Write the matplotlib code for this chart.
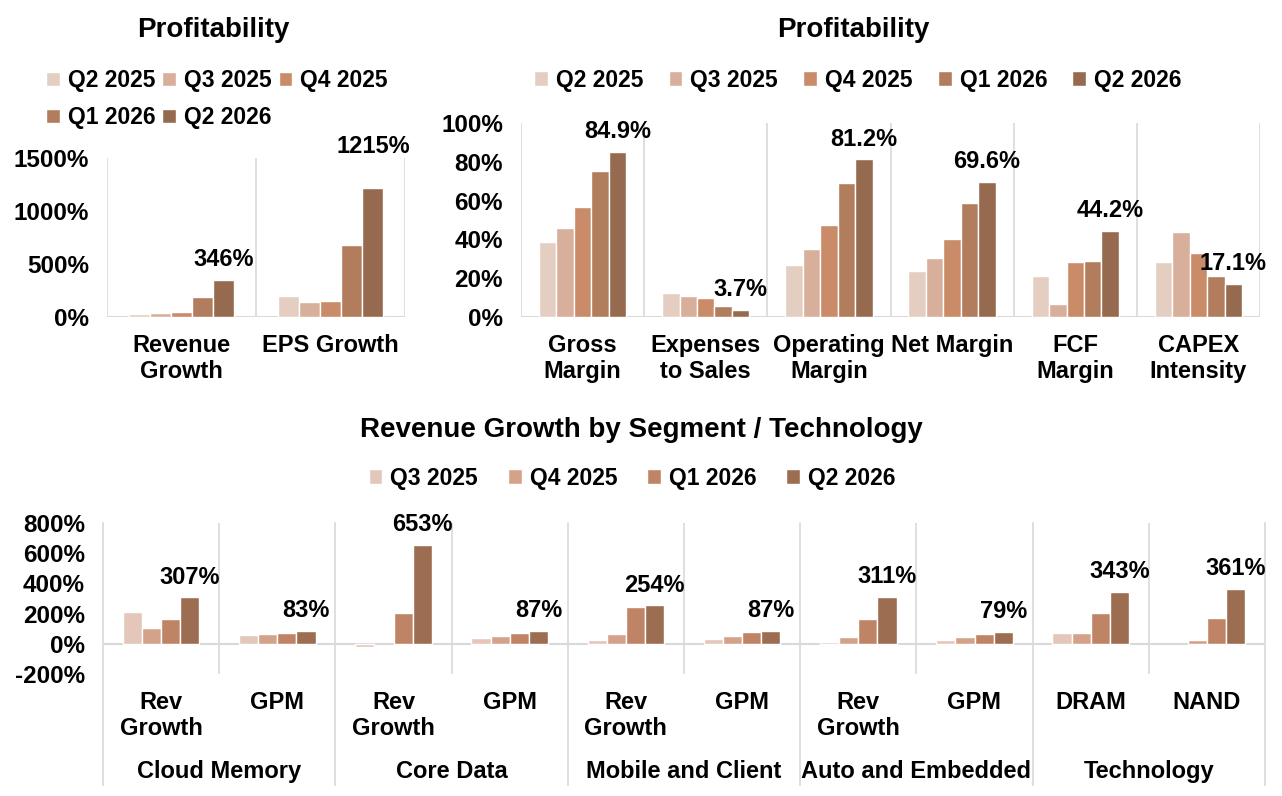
import matplotlib
matplotlib.use("Agg")
import matplotlib.pyplot as plt
import matplotlib.transforms as mtransforms
import numpy as np

plt.rcParams['font.family'] = ['Liberation Sans', 'DejaVu Sans']
plt.rcParams['font.weight'] = 'bold'
plt.rcParams['font.size'] = 17

W, H = 1282, 796
GRID = '#D9D9D9'

# ---- data ----
top_quarters = ['Q2 2025', 'Q3 2025', 'Q4 2025', 'Q1 2026', 'Q2 2026']
top_colors = ['#E4CDC1', '#D7AF9B', '#C98B68', '#B27D5D', '#966A4E']

growth_cats = ['Revenue\nGrowth', 'EPS Growth']
revenue_growth = [30, 38, 47, 193, 346]
eps_growth = [200, 146, 152, 678, 1215]

margin_cats = ['Gross\nMargin', 'Expenses\nto Sales', 'Operating\nMargin',
               'Net Margin', 'FCF\nMargin', 'CAPEX\nIntensity']
gross_margin = [38.8, 45.7, 56.9, 75.2, 84.9]
expenses_to_sales = [12.4, 10.9, 9.8, 5.9, 3.7]
operating_margin = [26.7, 35.0, 47.2, 69.3, 81.2]
net_margin = [23.6, 30.5, 40.3, 59.0, 69.6]
fcf_margin = [21.2, 6.9, 28.4, 29.0, 44.2]
capex_intensity = [28.4, 43.8, 32.9, 21.2, 17.1]

seg_quarters = ['Q3 2025', 'Q4 2025', 'Q1 2026', 'Q2 2026']
seg_colors = ['#E4C7BA', '#D4A28A', '#BF8465', '#9C6D50']
segments = ['Cloud Memory', 'Core Data', 'Mobile and Client', 'Auto and Embedded', 'Technology']
seg_metrics = ['Rev\nGrowth', 'GPM', 'Rev\nGrowth', 'GPM', 'Rev\nGrowth', 'GPM',
               'Rev\nGrowth', 'GPM', 'DRAM', 'NAND']
cloud_rev = [213, 104, 165, 307]
cloud_gpm = [59, 65, 72, 83]
core_rev = [-20, np.nan, 206, 653]
core_gpm = [41, 52, 72, 87]
mobile_rev = [22, 65, 246, 254]
mobile_gpm = [35, 52, 76, 87]
auto_rev = [15, 46, 165, 311]
auto_gpm = [28, 46, 65, 79]
dram = [70, 70, 206, 343]
nand = [np.nan, 22, 172, 361]


def rect(l, t, r, b):
    return [l / W, 1 - b / H, (r - l) / W, (b - t) / H]


def grouped(ax, groups, quarters, colors, span, fmt, pads):
    n_cat, n_q = len(groups), len(quarters)
    bw = span / n_q
    for q in range(n_q):
        xs = np.arange(n_cat) + (q - (n_q - 1) / 2) * bw
        ys = [g[q] for g in groups]
        ax.bar(xs, ys, width=bw, color=colors[q], edgecolor='white',
               linewidth=1, label=quarters[q], zorder=2)
    # labels on the latest quarter only
    xs = np.arange(n_cat) + ((n_q - 1) / 2) * bw
    for x, g, p in zip(xs, groups, pads):
        ax.annotate(fmt.format(g[-1]), xy=(x, g[-1]), xytext=(0, p),
                    textcoords='offset points', ha='center', va='baseline',
                    fontweight='bold', annotation_clip=False)
    ax.set_xlim(-0.5, n_cat - 0.5)
    for s in ax.spines.values():
        s.set_visible(False)
    ax.axhline(0, color=GRID, lw=1.5, zorder=1)
    ax.tick_params(length=0)
    ax.tick_params(axis='y', pad=13, labelsize=17.5)
    ax.tick_params(axis='x', pad=12)
    ax.yaxis.set_major_formatter(lambda v, p: f'{v:.0f}%')


fig = plt.figure(figsize=(W / 100, H / 100), dpi=100)

# ---- top left ----
ax1 = fig.add_axes(rect(107, 158, 405, 317))
grouped(ax1, [revenue_growth, eps_growth], top_quarters, top_colors, 0.71, '{:.0f}%', [10, 25])
ax1.set_ylim(0, 1500)
ax1.set_yticks([0, 500, 1000, 1500])
ax1.set_xticks(range(len(growth_cats)))
ax1.set_xticklabels(growth_cats)
for k in range(len(growth_cats) + 1):
    ax1.axvline(k - 0.5, color=GRID, lw=1.2, zorder=0)
fig.text(213 / W, 1 - 30 / H, 'Profitability', ha='center', va='center', fontsize=20)
h, l = ax1.get_legend_handles_labels()
order = [0, 3, 1, 4, 2]
fig.legend([h[i] for i in order], [l[i] for i in order], loc='center',
           bbox_to_anchor=(217 / W, 1 - 99 / H), ncol=3, frameon=False,
           handlelength=0.6, handleheight=0.6, handletextpad=0.35,
           columnspacing=0.3, labelspacing=0.6, fontsize=16.5)

# ---- top right ----
ax2 = fig.add_axes(rect(521, 123, 1260, 317))
margins = [gross_margin, expenses_to_sales, operating_margin, net_margin, fcf_margin, capex_intensity]
grouped(ax2, margins, top_quarters, top_colors, 0.71, '{:.1f}%', [10] * 6)
ax2.set_ylim(0, 100)
ax2.set_yticks(np.arange(0, 101, 20))
ax2.set_xticks(range(len(margin_cats)))
ax2.set_xticklabels(margin_cats)
for k in range(len(margin_cats) + 1):
    ax2.axvline(k - 0.5, color=GRID, lw=1.2, zorder=0)
fig.text(853 / W, 1 - 30 / H, 'Profitability', ha='center', va='center', fontsize=20)
fig.legend(*ax2.get_legend_handles_labels(), loc='center',
           bbox_to_anchor=(858 / W, 1 - 80 / H), ncol=5, frameon=False,
           handlelength=0.6, handleheight=0.6, handletextpad=0.35,
           columnspacing=1.1, fontsize=16.5)

# ---- bottom ----
ax3 = fig.add_axes(rect(103, 523, 1265, 674))
seg_data = [cloud_rev, cloud_gpm, core_rev, core_gpm, mobile_rev, mobile_gpm,
            auto_rev, auto_gpm, dram, nand]
grouped(ax3, seg_data, seg_quarters, seg_colors, 0.66, '{:.0f}%', [10] * 10)
ax3.set_ylim(-200, 800)
ax3.set_yticks(np.arange(-200, 801, 200))
ax3.set_xticks(range(len(seg_metrics)))
ax3.set_xticklabels(seg_metrics)
trans = mtransforms.blended_transform_factory(ax3.transData, ax3.transAxes)
for k in range(len(seg_metrics) + 1):
    x = k - 0.5
    if k % 2 == 0:
        ax3.plot([x, x], [1, -0.735], transform=trans, color=GRID, lw=1.2,
                 clip_on=False, zorder=0)
    else:
        ax3.axvline(x, color=GRID, lw=1.2, zorder=0)
for i, seg in enumerate(segments):
    ax3.text(2 * i + 0.5, -0.645, seg, transform=trans, ha='center', va='center')
fig.text(641 / W, 1 - 430 / H, 'Revenue Growth by Segment / Technology',
         ha='center', va='center', fontsize=20)
fig.legend(*ax3.get_legend_handles_labels(), loc='center',
           bbox_to_anchor=(632 / W, 1 - 478 / H), ncol=4, frameon=False,
           handlelength=0.6, handleheight=0.6, handletextpad=0.35,
           columnspacing=1.3, fontsize=16.5)

fig.savefig('out.png', dpi=100)
